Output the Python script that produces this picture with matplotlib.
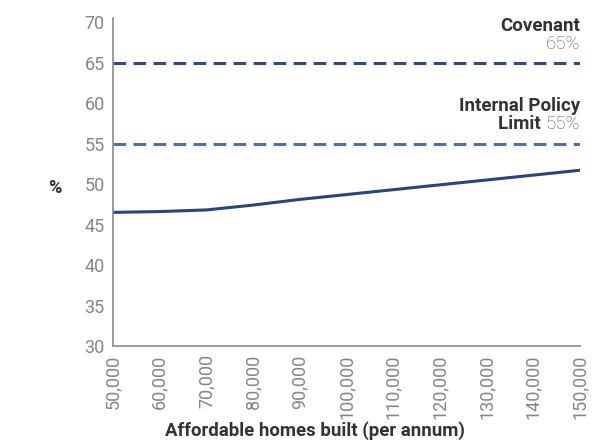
import matplotlib.pyplot as plt

# Debt ratio vs affordable homes built
homes = [50000, 60000, 70000, 80000, 90000, 100000, 110000, 120000, 130000, 140000, 150000]
ratio = [46.5, 46.6, 46.8, 47.4, 48.1, 48.7, 49.3, 49.9, 50.5, 51.1, 51.7]
tick_labels = [f"{h:,}" for h in homes]

covenant = 65
policy_limit = 55

plt.rcParams['font.family'] = ['Roboto', 'DejaVu Sans']

fig = plt.figure(figsize=(5.95, 4.46), dpi=100)
ax = fig.add_axes([113 / 595, 1 - 346 / 446, 467 / 595, 328 / 446])

ax.axhline(covenant, color='#2d4b85', lw=2.2, dashes=(4.15, 2.4))
ax.axhline(policy_limit, color='#4d6db5', lw=2.2, dashes=(4.15, 2.4))
ax.plot(homes, ratio, color='#29457a', lw=2.2, solid_capstyle='butt')

ax.set_xlim(homes[0], homes[-1])
ax.set_ylim(30, 70.5)
ax.set_yticks(range(30, 71, 5))
ax.set_xticks(homes)
ax.set_xticklabels(tick_labels, rotation=90)
ax.tick_params(length=0, labelsize=13, labelcolor='#858585', pad=6)

for side in ['top', 'right']:
    ax.spines[side].set_visible(False)
for side in ['left', 'bottom']:
    ax.spines[side].set_color('#8a8a8a')
    ax.spines[side].set_linewidth(1.2)

ax.set_xlabel('Affordable homes built (per annum)', fontsize=13.4,
              fontweight='bold', color='#333333')
ax.xaxis.set_label_coords(0.4325, -0.23)
ax.set_ylabel('%', fontsize=13, fontweight='bold', color='#333333',
              rotation=0, va='center')
ax.yaxis.set_label_coords(-0.125, 0.482)

# Threshold annotations at the right edge
bold = dict(fontsize=13.5, fontweight='bold', color='#333333')
light = dict(fontsize=13.5, fontweight='light', color='#555555')
ax.text(1.0, 0.948, 'Covenant', transform=ax.transAxes, ha='right', va='bottom', **bold)
ax.text(1.0, 0.892, f'{covenant}%', transform=ax.transAxes, ha='right', va='bottom', **light)
ax.text(1.0, 0.704, 'Internal Policy', transform=ax.transAxes, ha='right', va='bottom', **bold)
pct = ax.text(1.0, 0.649, f'{policy_limit}%', transform=ax.transAxes, ha='right', va='bottom', **light)
ax.annotate('Limit ', xy=(0, 0), xycoords=pct, ha='right', va='bottom', **bold)

fig.savefig('out.png', dpi=100)
